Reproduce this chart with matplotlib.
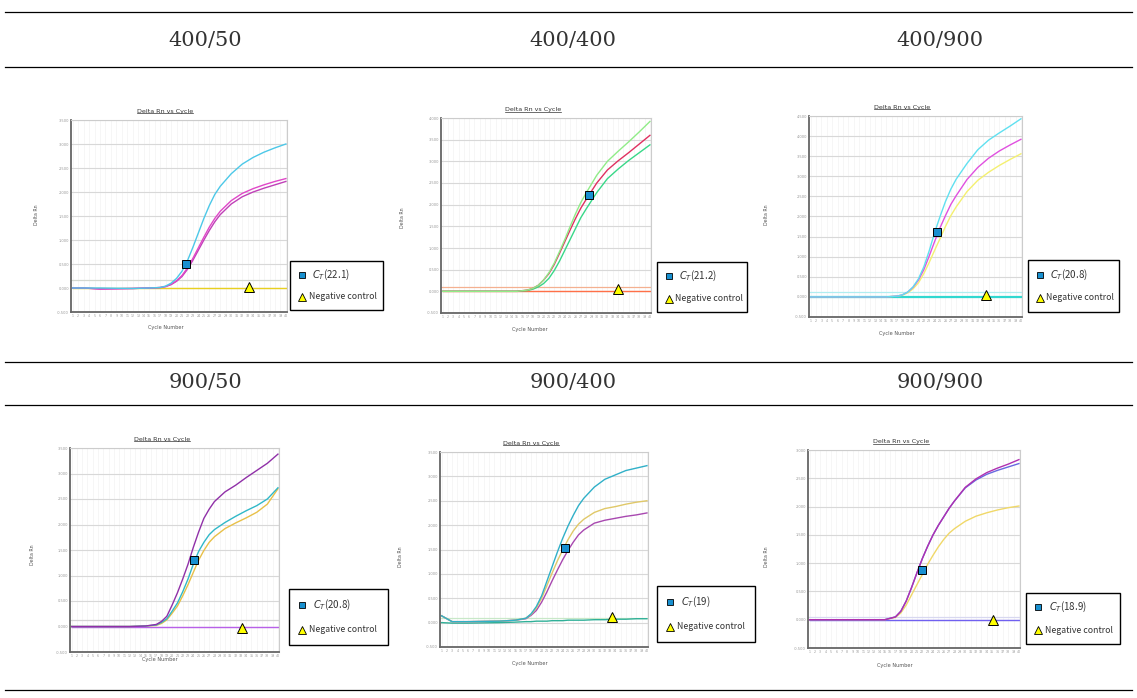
import numpy as np
import matplotlib.pyplot as plt
from matplotlib.lines import Line2D
from matplotlib.patches import Rectangle

cycles = [1, 3, 6, 12, 15, 17, 18, 19, 20, 21, 22, 23, 24, 25, 26, 27, 28, 30, 32, 34, 36, 38, 40]

# 400/50
p1_cyan = [0, 0, 0, -0.01, 0, 0.01, 0.04, 0.1, 0.2, 0.35, 0.57, 0.85, 1.15, 1.45, 1.72, 1.95, 2.12, 2.38, 2.58, 2.72, 2.83, 2.92, 3.0]
p1_mag1 = [0, 0, -0.02, -0.01, 0, 0.01, 0.03, 0.08, 0.15, 0.26, 0.42, 0.62, 0.84, 1.06, 1.27, 1.45, 1.6, 1.82, 1.97, 2.07, 2.15, 2.22, 2.28]
p1_mag2 = [0, 0, -0.02, -0.01, 0, 0.01, 0.03, 0.07, 0.14, 0.24, 0.39, 0.58, 0.79, 1.0, 1.2, 1.38, 1.53, 1.75, 1.9, 2.0, 2.08, 2.15, 2.22]
p1_neg = [0.0, 0.0, 0.0, 0.0, 0.0, 0.0, 0.0, 0.0, 0.0, 0.0, 0.0, 0.0, 0.0, 0.0, 0.0, 0.0, 0.0, 0.0, 0.0, 0.0, 0.0, 0.0, 0.0]

# 400/400
p2_green1 = [0, 0, 0, 0, 0, 0.03, 0.07, 0.14, 0.26, 0.43, 0.65, 0.92, 1.2, 1.5, 1.79, 2.05, 2.27, 2.68, 3.0, 3.23, 3.45, 3.68, 3.92]
p2_red = [0, 0, 0, 0, 0, 0.03, 0.07, 0.14, 0.26, 0.41, 0.62, 0.88, 1.15, 1.42, 1.68, 1.92, 2.12, 2.5, 2.8, 3.01, 3.2, 3.4, 3.6]
p2_green2 = [0, 0, 0, 0, 0, 0.02, 0.05, 0.1, 0.18, 0.3, 0.48, 0.7, 0.95, 1.2, 1.45, 1.7, 1.9, 2.28, 2.6, 2.82, 3.02, 3.2, 3.38]
p2_neg = [0.0, 0.0, 0.0, 0.0, 0.0, 0.0, 0.0, 0.0, 0.0, 0.0, 0.0, 0.0, 0.0, 0.0, 0.0, 0.0, 0.0, 0.0, 0.0, 0.0, 0.0, 0.0, 0.0]

# 400/900
p3_cyan = [0, 0, 0, 0, 0, 0.02, 0.05, 0.12, 0.25, 0.45, 0.75, 1.15, 1.6, 2.0, 2.37, 2.68, 2.93, 3.32, 3.66, 3.9, 4.08, 4.25, 4.43]
p3_mag = [0, 0, 0, 0, 0, 0.02, 0.05, 0.12, 0.24, 0.42, 0.68, 1.02, 1.38, 1.72, 2.02, 2.3, 2.52, 2.92, 3.22, 3.45, 3.63, 3.78, 3.92]
p3_yel = [0, 0, 0, 0, 0, 0.02, 0.04, 0.1, 0.2, 0.35, 0.58, 0.86, 1.16, 1.45, 1.75, 2.02, 2.24, 2.62, 2.9, 3.1, 3.27, 3.42, 3.56]
p3_neg = [0.0, 0.0, 0.0, 0.0, 0.0, 0.0, 0.0, 0.0, 0.0, 0.0, 0.0, 0.0, 0.0, 0.0, 0.0, 0.0, 0.0, 0.0, 0.0, 0.0, 0.0, 0.0, 0.0]

# 900/50
p4_purple = [0, 0, 0, 0, 0.01, 0.04, 0.1, 0.2, 0.42, 0.66, 0.93, 1.22, 1.55, 1.85, 2.12, 2.3, 2.45, 2.64, 2.77, 2.92, 3.06, 3.2, 3.38]
p4_cyan = [0, 0, 0, 0, 0.01, 0.03, 0.08, 0.15, 0.3, 0.46, 0.68, 0.93, 1.22, 1.47, 1.65, 1.8, 1.9, 2.04, 2.16, 2.27, 2.37, 2.5, 2.72]
p4_yel = [0, 0, 0, 0, 0.01, 0.02, 0.06, 0.13, 0.26, 0.4, 0.6, 0.82, 1.06, 1.3, 1.49, 1.65, 1.76, 1.92, 2.03, 2.13, 2.24, 2.4, 2.7]
p4_neg = [0.0, 0.0, 0.0, 0.0, 0.0, 0.0, 0.0, 0.0, 0.0, 0.0, 0.0, 0.0, 0.0, 0.0, 0.0, 0.0, 0.0, 0.0, 0.0, 0.0, 0.0, 0.0, 0.0]

# 900/400
p5_teal = [0.14, 0.02, 0.02, 0.03, 0.05, 0.09, 0.18, 0.33, 0.55, 0.85, 1.15, 1.45, 1.73, 1.98, 2.2, 2.4, 2.55, 2.78, 2.94, 3.03, 3.12, 3.17, 3.22]
p5_yel = [0.14, 0.02, 0.02, 0.03, 0.05, 0.09, 0.17, 0.3, 0.5, 0.76, 1.02, 1.27, 1.49, 1.7, 1.88, 2.02, 2.12, 2.26, 2.34, 2.38, 2.43, 2.47, 2.5]
p5_purple = [0.14, 0.02, 0.02, 0.03, 0.05, 0.08, 0.15, 0.25, 0.42, 0.63, 0.86, 1.08, 1.29, 1.48, 1.65, 1.8, 1.9, 2.04, 2.1, 2.14, 2.18, 2.21, 2.25]
p5_neg = [0.0, -0.01, -0.01, 0.0, 0.01, 0.02, 0.02, 0.03, 0.03, 0.03, 0.04, 0.04, 0.04, 0.05, 0.05, 0.05, 0.05, 0.06, 0.06, 0.07, 0.07, 0.08, 0.08]

# 900/900
p6_mag = [0, 0, 0, 0, 0, 0.05, 0.15, 0.33, 0.57, 0.83, 1.08, 1.3, 1.5, 1.67, 1.82, 1.97, 2.1, 2.34, 2.49, 2.6, 2.68, 2.75, 2.83]
p6_blue = [0, 0, 0, 0, 0, 0.05, 0.15, 0.33, 0.57, 0.83, 1.08, 1.3, 1.5, 1.67, 1.82, 1.97, 2.1, 2.33, 2.47, 2.57, 2.64, 2.7, 2.76]
p6_yel = [0, 0, 0, 0, 0, 0.04, 0.12, 0.26, 0.44, 0.62, 0.8, 0.98, 1.14, 1.29, 1.42, 1.53, 1.61, 1.74, 1.83, 1.89, 1.94, 1.98, 2.01]
p6_neg = [0.0, 0.0, 0.0, 0.0, 0.0, 0.0, 0.0, 0.0, 0.0, 0.0, 0.0, 0.0, 0.0, 0.0, 0.0, 0.0, 0.0, 0.0, 0.0, 0.0, 0.0, 0.0, 0.0]

headers = ['400/50', '400/400', '400/900', '900/50', '900/400', '900/900']
ct_values = ['22.1', '21.2', '20.8', '20.8', '19', '18.9']
thresholds = [0.17, 0.09, 0.12, 0.13, 0.10, 0.05]
y_max = [3.5, 4.0, 4.5, 3.5, 3.5, 3.0]
square_x = [21.7, 28.6, 24.5, 24.1, 24.4, 22.0]
square_y = [0.5, 2.23, 1.62, 1.31, 1.53, 0.88]
triangle_x = [33.3, 33.9, 33.5, 33.2, 33.3, 35.1]
triangle_y = [0.03, 0.06, 0.05, -0.03, 0.11, -0.01]

# curves per panel with colours (first one = negative control)
panels = [
    [(p1_neg, '#e8d020'), (p1_mag2, '#c040b8'), (p1_mag1, '#e048c8'), (p1_cyan, '#4cc8e8')],
    [(p2_neg, '#ff7048'), (p2_green2, '#38d888'), (p2_red, '#e03060'), (p2_green1, '#90ec88')],
    [(p3_neg, '#30d8d0'), (p3_yel, '#f4f070'), (p3_mag, '#e050e0'), (p3_cyan, '#60e0f0')],
    [(p4_neg, '#b860e8'), (p4_yel, '#e8c048'), (p4_cyan, '#30b8c8'), (p4_purple, '#9030a8')],
    [(p5_neg, '#30b098'), (p5_purple, '#a848b0'), (p5_yel, '#e0c868'), (p5_teal, '#30b0c8')],
    [(p6_neg, '#7060f0'), (p6_yel, '#f0d868'), (p6_blue, '#6868e0'), (p6_mag, '#b030b0')],
]
thr_colors = ['#d4d8d0', '#f4b090', '#b0eef0', '#d4d4d4', '#c8e8c8', '#d8d8f0']

W, H = 1137, 698
fig = plt.figure(figsize=(W / 100, H / 100), dpi=100)

def fx(x):
    return x / W

def fy(y):
    return 1 - y / H

# table rules
for y in [12, 67, 362, 405, 690]:
    fig.add_artist(Line2D([0.004, 0.996], [fy(y), fy(y)], color='black', lw=0.9))

header_pos = [(205, 40), (573, 40), (940, 40), (205, 383), (573, 383), (940, 383)]
for (x, y), h in zip(header_pos, headers):
    fig.text(fx(x), fy(y), h, ha='center', va='center', fontsize=15,
             family='DejaVu Serif', color='#333333')

# plot boxes (left, top, right, bottom) in pixels
boxes = [(71, 120, 287, 312), (441, 118, 651, 313), (809, 116, 1022, 317),
         (70, 448, 279, 652), (440, 452, 648, 647), (808, 450, 1020, 648)]
legend_boxes = [(290, 261, 383, 310), (657, 262, 747, 312), (1028, 260, 1119, 312),
                (289, 589, 388, 645), (657, 586, 755, 642), (1026, 593, 1120, 644)]
title_pos = [(165, 111), (533, 110), (902, 107), (162, 439), (531, 443), (901, 442)]
ylab_pos = [(37, 215), (403, 218), (767, 215), (32, 555), (400, 557), (767, 557)]
xlab_pos = [(166, 328), (530, 330), (897, 333), (160, 659), (530, 663), (895, 666)]

titles = []
for i in range(6):
    x0, y0, x1, y1 = boxes[i]
    ax = fig.add_axes([fx(x0), fy(y1), (x1 - x0) / W, (y1 - y0) / H])
    ax.set_xlim(0.7, 40.2)
    ax.set_ylim(-0.5, y_max[i])
    yt = np.arange(-0.5, y_max[i] + 0.01, 0.5)
    ax.set_yticks(yt)
    ax.set_yticklabels(['%.3f' % v for v in yt], fontsize=2.6, color='#999999')
    ax.set_xticks(range(1, 41))
    ax.set_xticklabels([str(c) for c in range(1, 41)], fontsize=2.3, color='#999999')
    ax.tick_params(length=0, pad=1.5)
    ax.grid(axis='y', color='#d8d8d8', lw=0.8)
    ax.grid(axis='x', color='#f3f3f3', lw=0.5)
    ax.set_axisbelow(True)
    for s in ['top', 'right']:
        ax.spines[s].set_color('#cccccc')
        ax.spines[s].set_linewidth(0.8)
    for s in ['left', 'bottom']:
        ax.spines[s].set_color('#666666')
        ax.spines[s].set_linewidth(1.3)
    ax.axhline(thresholds[i], color=thr_colors[i], lw=0.9, zorder=1)
    for k, (vals, col) in enumerate(panels[i]):
        lw = 1.6 if (k == 0 and i == 2) else 1.0
        ax.plot(cycles, vals, color=col, lw=lw, zorder=2)
    ax.plot(square_x[i], square_y[i], marker='s', ms=5.5, mfc='#1890d0', mec='black',
            mew=0.7, zorder=5, clip_on=False)
    ax.plot(triangle_x[i], triangle_y[i], marker='^', ms=7, mfc='#ffff00', mec='black',
            mew=0.7, zorder=5, clip_on=False)

    t = fig.text(fx(title_pos[i][0]), fy(title_pos[i][1]), 'Delta Rn vs Cycle', ha='center',
                 va='center', fontsize=4.6, color='#333333')
    titles.append(t)
    fig.text(fx(ylab_pos[i][0]), fy(ylab_pos[i][1]), 'Delta Rn', ha='center', va='center',
             rotation=90, fontsize=3.4, color='#555555')
    fig.text(fx(xlab_pos[i][0]), fy(xlab_pos[i][1]), 'Cycle Number', ha='center', va='center',
             fontsize=3.6, color='#555555')

    # legend box
    lx0, ly0, lx1, ly1 = legend_boxes[i]
    lax = fig.add_axes([fx(lx0), fy(ly1), (lx1 - lx0) / W, (ly1 - ly0) / H])
    lax.set_xlim(0, 1)
    lax.set_ylim(0, 1)
    lax.axis('off')
    lax.add_patch(Rectangle((0, 0), 1, 1, transform=lax.transAxes, fill=False,
                            ec='black', lw=1.0, clip_on=False))
    lax.plot(0.13, 0.72, marker='s', ms=5, mfc='#1890d0', mec='black', mew=0.6)
    lax.text(0.24, 0.72, r'$C_T$' + '(' + ct_values[i] + ')', va='center', fontsize=7,
             family='Noto Sans CJK KR', color='#333333')
    lax.plot(0.13, 0.27, marker='^', ms=6, mfc='#ffff00', mec='black', mew=0.6)
    lax.text(0.2, 0.27, 'Negative control', va='center', fontsize=6.3,
             family='Noto Sans CJK KR', color='#333333')

# underline the small panel titles
fig.canvas.draw()
r = fig.canvas.get_renderer()
for t in titles:
    bb = t.get_window_extent(r)
    fig.add_artist(Line2D([bb.x0 / W, bb.x1 / W], [(bb.y0 + 0.3) / H] * 2,
                          color='#333333', lw=0.5))

fig.savefig('out.png', dpi=100)
